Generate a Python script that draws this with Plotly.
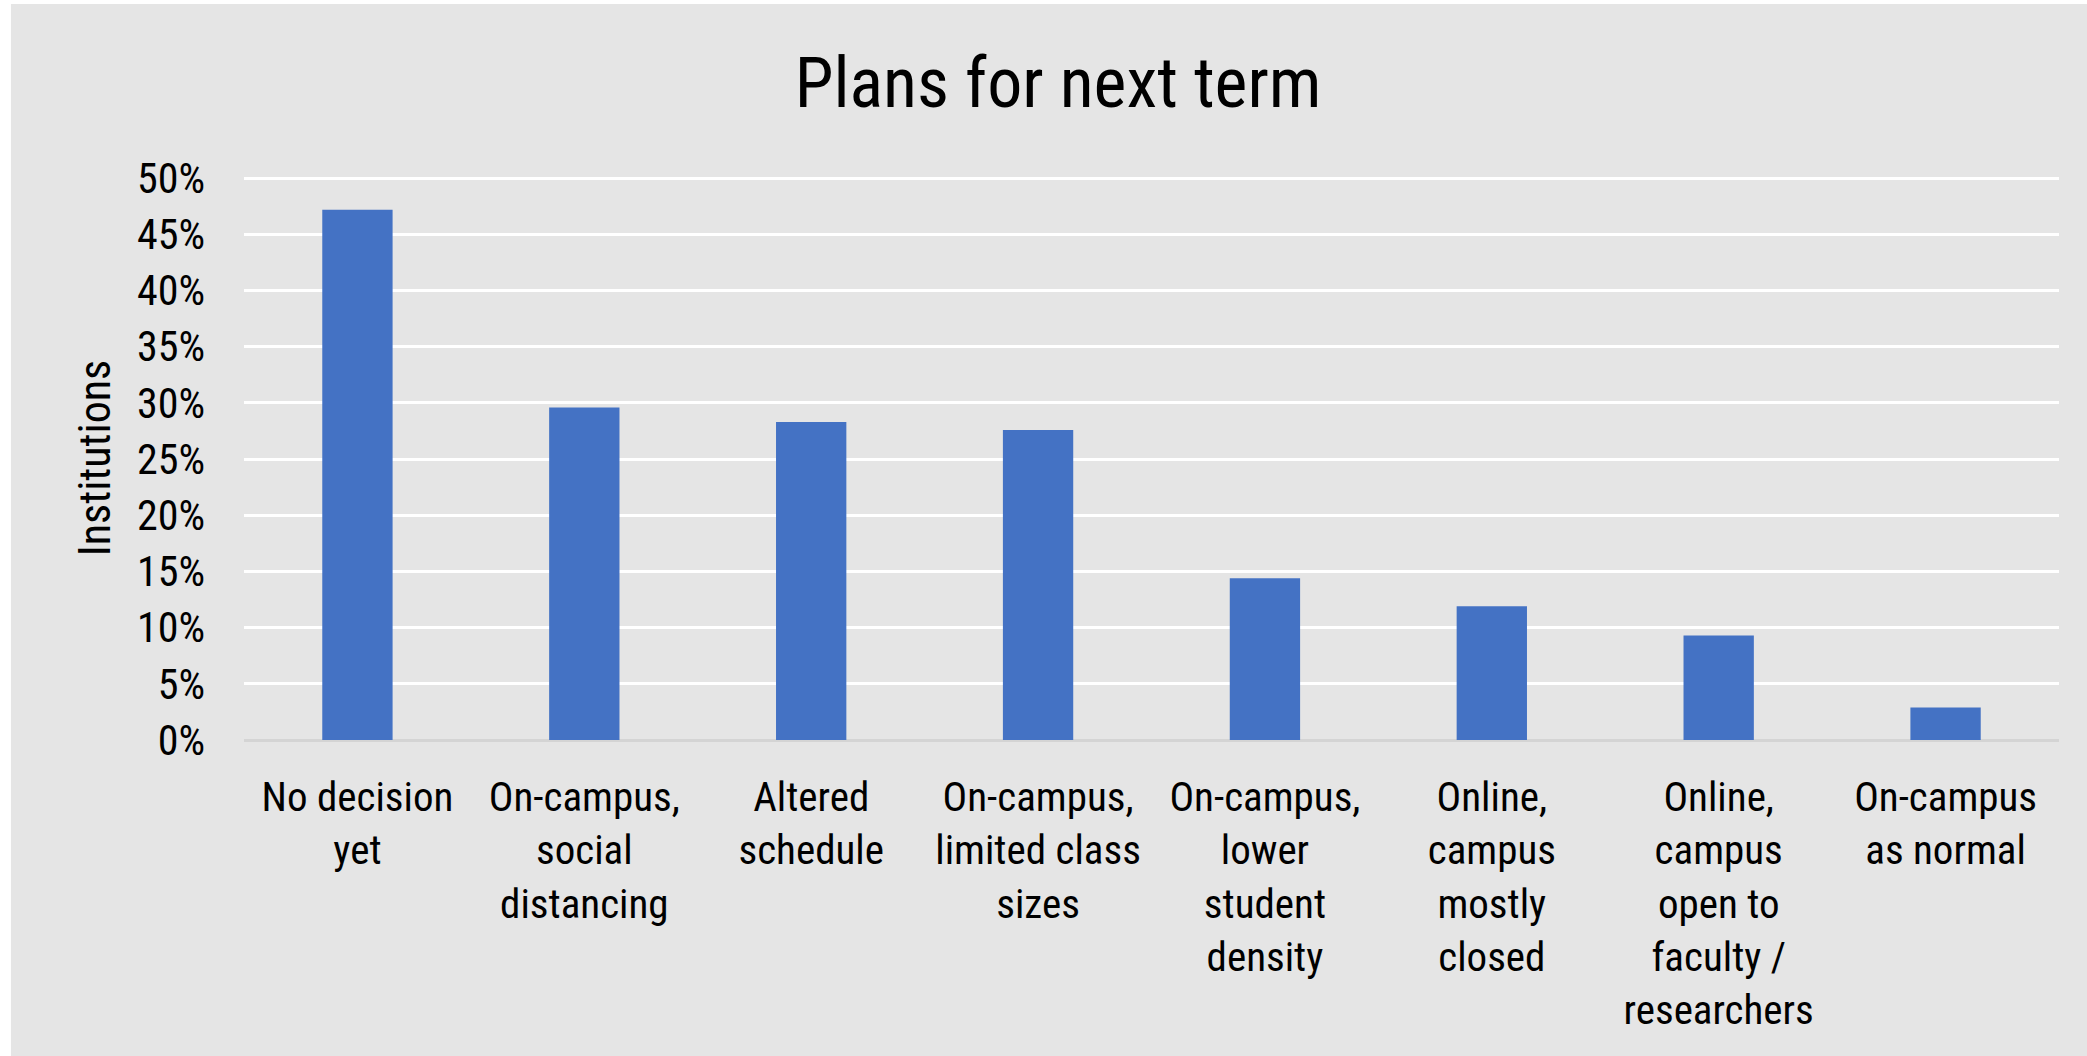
import plotly.graph_objects as go

categories = [
    "No decision<br>yet",
    "On-campus,<br>social<br>distancing",
    "Altered<br>schedule",
    "On-campus,<br>limited class<br>sizes",
    "On-campus,<br>lower<br>student<br>density",
    "Online,<br>campus<br>mostly<br>closed",
    "Online,<br>campus<br>open to<br>faculty /<br>researchers",
    "On-campus<br>as normal",
]
share = [0.472, 0.296, 0.283, 0.276, 0.144, 0.119, 0.093, 0.029]
y_ticks = [0, 0.05, 0.10, 0.15, 0.20, 0.25, 0.30, 0.35, 0.40, 0.45, 0.50]

FONT = "Roboto Condensed, Liberation Sans Narrow, DejaVu Sans Condensed, Roboto, sans-serif"
BG = "#e5e5e5"

fig = go.Figure(go.Bar(
    x=categories,
    y=share,
    marker=dict(color="#4472c4", line=dict(width=0)),
))

fig.update_layout(
    width=2087,
    height=1056,
    paper_bgcolor=BG,
    plot_bgcolor=BG,
    font=dict(family=FONT, size=42, color="#000000"),
    title=dict(text="Plans for next term", x=0.507, xanchor="center",
               y=0.922, yanchor="middle", yref="container",
               font=dict(size=70, family=FONT, color="#000000")),
    margin=dict(l=244, r=28, t=176, b=316),
    bargap=0.69,
    showlegend=False,
    # white strip along the left and top edge of the picture
    shapes=[
        dict(type="rect", xref="paper", yref="paper", x0=-0.135, x1=-0.1284,
             y0=-0.6, y1=1.6, fillcolor="white", line=dict(width=0), layer="below"),
        dict(type="rect", xref="paper", yref="paper", x0=-0.2, x1=1.1,
             y0=1.305, y1=1.4, fillcolor="white", line=dict(width=0), layer="below"),
    ],
)

fig.update_yaxes(
    range=[0, 0.502],
    tickvals=y_ticks,
    tickformat=".0%",
    showgrid=True,
    gridcolor="white",
    gridwidth=3,
    zeroline=True,
    zerolinecolor="#d4d4d4",
    zerolinewidth=3,
    showline=False,
    ticks="",
    ticklabelstandoff=38,
    tickfont=dict(size=42),
    title=dict(text="Institutions", standoff=12, font=dict(size=44)),
)
fig.update_xaxes(
    showgrid=False,
    showline=False,
    ticks="",
    ticklabelstandoff=29,
    tickangle=0,
    tickfont=dict(size=41),
)

fig.write_html("out.html", config={"displayModeBar": False},
               post_script="document.body.style.margin='0';")
